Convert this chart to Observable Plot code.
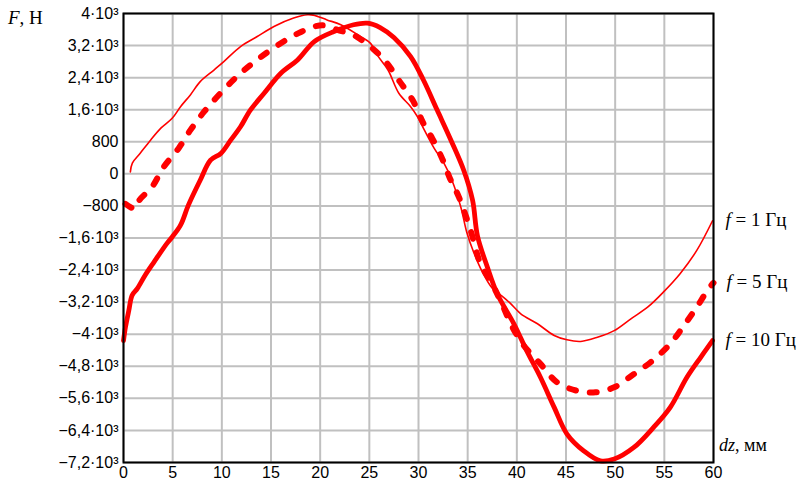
<!DOCTYPE html>
<html>
<head>
<meta charset="utf-8">
<script src="https://cdn.jsdelivr.net/npm/d3@7"></script>
<script src="https://cdn.jsdelivr.net/npm/@observablehq/plot@0.6"></script>
<style>
  html, body { margin: 0; padding: 0; background: #fff; }
  #chart { position: relative; width: 809px; height: 485px; }
</style>
</head>
<body>
<div id="chart"></div>
<script>
// ---- data ----
const xTicks = [0, 5, 10, 15, 20, 25, 30, 35, 40, 45, 50, 55, 60];
const yTicks = [-7200, -6400, -5600, -4800, -4000, -3200, -2400, -1600, -800, 0, 800, 1600, 2400, 3200, 4000];

// f = 1 Hz (thin line)
const dz1 = [0.7, 0.9, 1.7, 2.75, 3.8, 4.95, 5.8, 6.8, 7.8, 9.2, 10.2, 11.9, 13.6, 15.3, 17.3, 18.7, 19.3, 20.7, 22.1, 24.1, 25.1, 25.9, 26.9, 28.0, 29.2, 29.9, 30.6, 31.6, 32.6, 33.4, 34.3, 34.9, 35.6, 36.5, 37.5, 38.5, 39.3, 40.4, 42.1, 43.8, 45.1, 46.5, 48.2, 49.9, 51.6, 53.3, 54.9, 56.6, 58.3, 59.9];
const F1  = [50, 270, 515, 840, 1140, 1385, 1675, 1970, 2300, 2590, 2800, 3175, 3425, 3675, 3885, 3970, 3960, 3840, 3720, 3425, 3260, 2930, 2590, 2010, 1675, 1425, 1090, 635, 260, -160, -825, -1450, -1950, -2450, -2850, -3050, -3220, -3490, -3740, -4030, -4140, -4180, -4075, -3910, -3615, -3325, -2950, -2490, -1910, -1170];

// f = 5 Hz (dashed)
const dz5 = [0.2, 1.2, 1.6, 2.9, 4.1, 5.6, 6.8, 8.2, 10.0, 11.9, 13.8, 16.0, 17.8, 19.4, 20.5, 21.9, 23.4, 25.5, 26.8, 28.1, 29.4, 30.5, 31.4, 32.4, 33.2, 34.1, 35.3, 36.3, 37.5, 38.5, 39.5, 40.7, 42.4, 44.1, 46.1, 48.0, 49.9, 51.7, 53.6, 55.6, 57.0, 58.3, 59.5, 60.0];
const F5  = [-750, -870, -660, -325, 175, 635, 1090, 1550, 2050, 2510, 2885, 3260, 3510, 3675, 3700, 3580, 3465, 3090, 2760, 2300, 1840, 1260, 885, 385, -115, -575, -1410, -2240, -2750, -3250, -3800, -4280, -4740, -5200, -5410, -5450, -5325, -5030, -4700, -4240, -3780, -3325, -2865, -2720];

// f = 10 Hz (thick line)
const dz10 = [0, 0.2, 0.54, 0.88, 1.4, 2.2, 3.1, 4.4, 4.95, 5.8, 6.6, 7.8, 8.85, 9.9, 10.9, 11.9, 12.9, 14.3, 16.0, 17.7, 19.4, 21.4, 23.4, 24.8, 26.1, 27.5, 29.2, 30.5, 31.9, 33.3, 34.6, 35.5, 36.0, 37.0, 38.0, 39.7, 41.0, 42.4, 43.8, 45.1, 46.8, 48.5, 49.9, 51.9, 53.9, 55.6, 57.3, 58.7, 59.9];
const F10  = [-4160, -3825, -3410, -3030, -2865, -2530, -2200, -1740, -1575, -1280, -780, -160, 340, 510, 840, 1175, 1590, 2010, 2510, 2840, 3300, 3550, 3720, 3760, 3650, 3400, 2925, 2340, 1590, 840, 90, -660, -1550, -2325, -2990, -3740, -4410, -5075, -5825, -6490, -6910, -7160, -7115, -6825, -6325, -5825, -5075, -4575, -4160];

const seriesNames = ["f = 1 Гц", "f = 5 Гц", "f = 10 Гц"];
const yTitle = "F, Н";
const xTitle = "dz, мм";

// ---- build tables ----
const toRows = (xs, ys) => xs.map((x, i) => ({x, y: ys[i]}));
const s1 = toRows(dz1, F1), s5 = toRows(dz5, F5), s10 = toRows(dz10, F10);
const ends = [s1, s5, s10].map((s, i) => ({x: s[s.length - 1].x, y: s[s.length - 1].y, name: seriesNames[i]}));

const fmtY = v => {
  if (v === 0) return "0";
  const sign = v < 0 ? "\u2212" : "";
  const a = Math.abs(v);
  if (a < 1000) return sign + a;
  return sign + String(a / 1000).replace(".", ",") + "\u00B710\u00B3";
};

const RED = "#ff0000";
const SERIF = "'Liberation Serif', 'Times New Roman', serif";
const plot = Plot.plot({
  width: 809,
  height: 485,
  marginLeft: 123,
  marginRight: 96,
  marginTop: 13,
  marginBottom: 23,
  style: {fontFamily: "'Liberation Sans', Arial, sans-serif", fontSize: "16px", color: "#000", background: "#fff"},
  x: {domain: [0, 60]},
  y: {domain: [-7200, 4000]},
  marks: [
    Plot.gridX(xTicks, {stroke: "#c0c0c0", strokeOpacity: 1, strokeWidth: 2}),
    Plot.gridY(yTicks, {stroke: "#c0c0c0", strokeOpacity: 1, strokeWidth: 2}),
    Plot.axisX(xTicks, {tickSize: 0, tickPadding: 4, label: null, fontSize: 16}),
    Plot.axisY(yTicks, {tickSize: 0, tickPadding: 5, label: null, tickFormat: fmtY, fontSize: 16}),
    Plot.line(s1, {x: "x", y: "y", stroke: RED, strokeWidth: 1.6, curve: "catmull-rom"}),
    Plot.line(s5, {x: "x", y: "y", stroke: RED, strokeWidth: 6, strokeDasharray: "7,14", strokeLinecap: "round", curve: "catmull-rom"}),
    Plot.line(s10, {x: "x", y: "y", stroke: RED, strokeWidth: 4.8, curve: "catmull-rom"}),
    Plot.frame({stroke: "#000", strokeWidth: 2}),
    Plot.text(ends, {x: "x", y: "y", text: "name", dx: 13, dy: -1, textAnchor: "start",
      fontFamily: SERIF, fontSize: 19, fill: "#000"})
  ]
});

document.getElementById("chart").appendChild(plot);

const svg = d3.select(plot);

// italicise the variable letter in the curve labels
svg.selectAll('g[aria-label="text"] text').each(function () {
  const t = d3.select(this);
  const s = t.text();
  t.text(null);
  t.append("tspan").attr("font-style", "italic").text(s.slice(0, 1));
  t.append("tspan").text(s.slice(1));
});

// axis titles
const addTitle = (txt, nItalic, x, y, size) => {
  const t = svg.append("text")
    .attr("x", x).attr("y", y)
    .attr("text-anchor", "start")
    .attr("font-family", SERIF)
    .attr("font-size", size).attr("fill", "#000");
  t.append("tspan").attr("font-style", "italic").text(txt.slice(0, nItalic));
  t.append("tspan").text(txt.slice(nItalic));
};
addTitle(yTitle, 1, 8, 24, 19);
addTitle(xTitle, 2, 719, 451, 18);
</script>
</body>
</html>
